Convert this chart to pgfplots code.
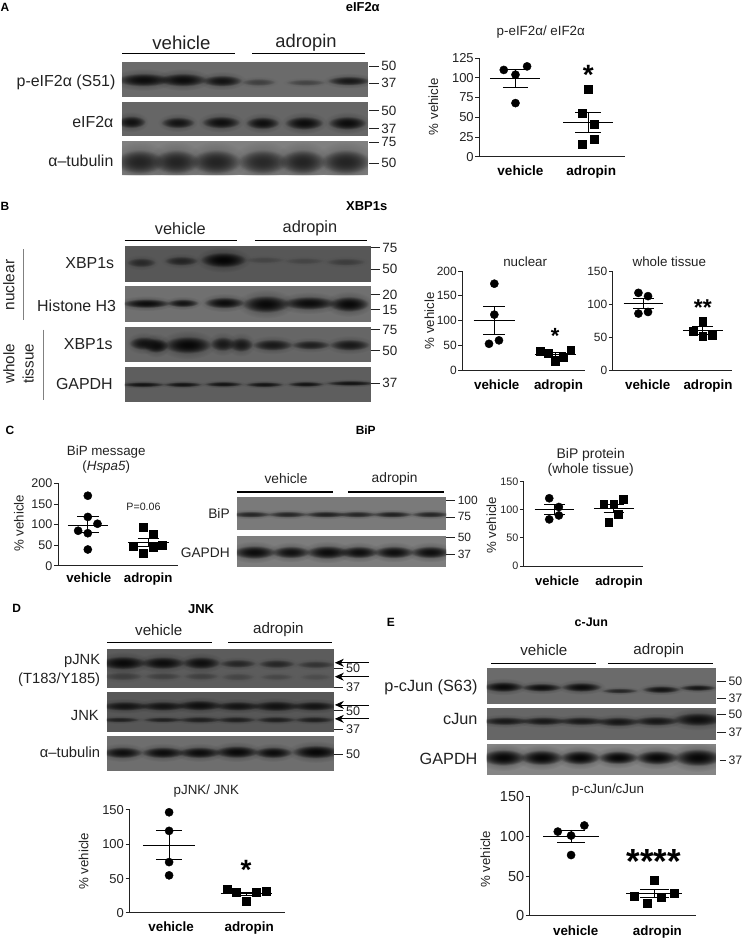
\documentclass[border=0pt]{standalone}
\usepackage{fontspec}
\setmainfont{Liberation Sans}
\usepackage{pgfplots}
\pgfplotsset{compat=1.18}
\usetikzlibrary{arrows.meta,fadings}

\definecolor{ink}{HTML}{222222}
\newcommand{\fs}[1]{\fontsize{#1}{#1}\selectfont}
\tikzfading[name=bf,inner color=transparent!0,outer color=transparent!100]

% text helpers, all in reference pixels
\newcommand{\txt}[4]{\node[ink,inner sep=0pt,font=\fs{#3}] at (#1,#2) {#4};}
\newcommand{\txtb}[4]{\node[black,inner sep=0pt,font=\fs{#3}\bfseries] at (#1,#2) {#4};}
\newcommand{\txtr}[4]{\node[ink,inner sep=0pt,anchor=east,font=\fs{#3}] at (#1,#2) {#4};}
\newcommand{\txtv}[4]{\node[ink,inner sep=0pt,rotate=90,font=\fs{#3}] at (#1,#2) {#4};}
\newcommand{\sig}[4]{\node[black,inner sep=0pt,anchor=base,font=\fs{#3}\bfseries] at (#1,{#2+0.6*#3}) {#4};}
\newcommand{\mw}[5]{\draw[ink,line width=0.8pt] (#1,#3)--(#2,#3);
  \node[ink,inner sep=0pt,anchor=west,font=\fs{#5}] at (#2+2.5,#3) {#4};}
\newcommand{\brk}[3]{\draw[black,line width=1.2pt] (#1,#3)--(#2,#3);}

% blots: zoom-crop coordinates (3x) with an offset
\newcommand{\setoff}[2]{\def\ox{#1}\def\oy{#2}}
\newcommand{\blot}[5]{\definecolor{bg}{gray}{#5}
  \fill[bg] ({\ox+#1/3},{\oy+#2/3}) rectangle ({\ox+#3/3},{\oy+#4/3});
  \def\bxa{#1}\def\bya{#2}\def\bxb{#3}\def\byb{#4}}
\newcommand{\band}[5]{\definecolor{bc}{gray}{#5}
  \begin{scope}
  \clip ({\ox+\bxa/3},{\oy+\bya/3}) rectangle ({\ox+\bxb/3},{\oy+\byb/3});
  \fill[bc,opacity=0.45,path fading=bf] ({\ox+#1/3},{\oy+#2/3}) ellipse ({1.75*#3/3} and {2.6*#4/3});
  \fill[bc,path fading=bf] ({\ox+#1/3},{\oy+#2/3}) ellipse ({1.5*#3/3} and {1.6*#4/3});
  \fill[bc,path fading=bf] ({\ox+#1/3},{\oy+#2/3}) ellipse ({1.4*#3/3} and {1.4*#4/3});
  \end{scope}}

\pgfplotsset{
  dot/.style={
    scale only axis,clip=false,
    axis lines=left,axis line style={-,ink,line width=0.9pt},
    ymin=0,xtick style={draw=none},ytick style={ink,line width=0.9pt},
    tick align=outside,major tick length=4pt,
    xticklabels={vehicle,adropin},
    xticklabel style={font=\fs{13.5}\bfseries,black,text height=10pt,text depth=3pt,inner sep=0pt,yshift=-5pt},
    /pgf/number format/assume math mode=true,
    ylabel={\% vehicle},
    every axis title shift=0pt,
    title style={anchor=center,align=center,inner sep=0pt,text=ink,font=\fs{13.4}},
    every axis y label/.append style={anchor=center,font=\fs{13.3},ink},
    yticklabel style={ink,inner sep=1.5pt},
  },
  pts/.style={only marks,mark=*,mark size=4.1pt,black,forget plot},
  sqr/.style={only marks,mark=square*,mark size=4pt,black,forget plot},
  errl/.style={black,line width=0.9pt,forget plot,no marks},
}
% x, mean left, mean right, mean, cap left, cap right, upper, lower
\newcommand{\meanbar}[8]{
  \addplot[errl] coordinates {(#2,#4) (#3,#4)};
  \addplot[errl] coordinates {(#5,#7) (#6,#7)};
  \addplot[errl] coordinates {(#5,#8) (#6,#8)};
  \addplot[errl] coordinates {(#1,#7) (#1,#8)};
}

\begin{document}
\begin{tikzpicture}
\begin{scope}[x=1pt,y=-1pt]
\path[use as bounding box] (0,0) rectangle (745,938);

% ---------- panel A
\txtb{5}{7}{12}{A}
\txtb{364}{7}{13}{eIF2α}
\txt{182}{43}{18.7}{vehicle}
\txt{307}{43}{18.4}{adropin}
\brk{122.7}{235.7}{54}\brk{253.3}{366.7}{54}
\setoff{0}{0}
\blot{367}{187}{1108}{293}{0.42}
\band{432}{240}{55}{13}{0.05}\band{550}{240}{50}{13}{0.05}\band{668}{243}{42}{11}{0.08}
\band{778}{247}{35}{7}{0.25}\band{920}{248}{40}{6}{0.27}\band{1050}{243}{45}{9}{0.1}
\blot{367}{308}{1108}{408}{0.4}
\band{395}{367}{30}{12}{0.07}\band{535}{369}{35}{11}{0.08}\band{665}{368}{40}{12}{0.06}
\band{790}{370}{35}{12}{0.06}\band{915}{370}{40}{13}{0.05}\band{1045}{370}{40}{13}{0.05}
\blot{367}{424}{1108}{527}{0.5}
\band{420}{487}{50}{24}{0.14}\band{530}{487}{48}{24}{0.14}\band{650}{487}{52}{24}{0.14}
\band{790}{487}{52}{24}{0.16}\band{910}{487}{48}{24}{0.14}\band{1040}{487}{52}{24}{0.14}
\txtr{116}{83}{16}{p-eIF2α (S51)}
\txtr{114}{122}{16}{eIF2α}
\txtr{114}{161}{16}{α–tubulin}
\mw{370.7}{380}{66.3}{50}{13.5}\mw{370.7}{380}{83.3}{37}{13.5}
\mw{370.7}{380}{111}{50}{13.5}\mw{370.7}{380}{129.3}{37}{13.5}
\mw{370.7}{380}{142.7}{75}{13.5}\mw{370.7}{380}{163.7}{50}{13.5}
\sig{590.3}{68}{28}{*}

% ---------- panel B
\txtb{5}{207}{12}{B}
\txtb{368}{207}{13}{XBP1s}
\txt{181}{229}{16.4}{vehicle}
\txt{311}{229}{16.4}{adropin}
\brk{125}{237.7}{241}\brk{255.7}{368.7}{241}
\setoff{0}{190}
\blot{375}{170}{1116}{278}{0.34}
\band{425}{220}{30}{9}{0.16}\band{545}{215}{35}{9}{0.14}\band{672}{212}{48}{15}{0.02}
\band{795}{212}{40}{6}{0.27}\band{915}{215}{40}{6}{0.27}\band{1040}{218}{40}{7}{0.24}
\blot{375}{292}{1116}{400}{0.44}
\band{440}{343}{50}{9}{0.05}\band{550}{342}{33}{8}{0.08}\band{675}{341}{42}{11}{0.05}
\band{800}{345}{50}{17}{0.04}\band{930}{342}{55}{13}{0.05}\band{1050}{345}{42}{15}{0.04}
\blot{375}{413}{1116}{520}{0.4}
\band{432}{463}{30}{13}{0.08}\band{470}{470}{25}{14}{0.05}\band{565}{468}{50}{17}{0.03}
\band{670}{465}{26}{14}{0.1}\band{725}{467}{25}{14}{0.1}\band{820}{468}{42}{11}{0.1}
\band{935}{468}{40}{9}{0.12}\band{1052}{468}{42}{11}{0.1}
\blot{375}{535}{1116}{640}{0.37}
\band{430}{587}{45}{5}{0.08}\band{550}{587}{40}{5}{0.08}\band{672}{586}{40}{5}{0.08}
\band{795}{587}{40}{5}{0.08}\band{920}{586}{38}{5}{0.08}\band{1055}{583}{52}{5}{0.08}
\txtr{114.7}{264}{16}{XBP1s}
\txtr{116.7}{306.7}{16}{Histone H3}
\txtr{113.3}{345.7}{16}{XBP1s}
\txtr{113.3}{385}{16}{GAPDH}
\txtv{9}{286}{15.5}{nuclear}
\txtv{9}{365}{15.3}{whole}
\txtv{28.3}{365}{15.3}{tissue}
\draw[gray,line width=0.8pt] (23,250)--(23,321);
\draw[gray,line width=0.8pt] (44,330.7)--(44,401.7);
\mw{372}{381}{248.3}{75}{13.5}\mw{372}{381}{270}{50}{13.5}
\mw{372}{381}{295.7}{20}{13.5}\mw{372}{381}{310.7}{15}{13.5}
\mw{372}{381}{330.7}{75}{13.5}\mw{372}{381}{351.7}{50}{13.5}
\mw{372}{381}{384.3}{37}{13.5}
\sig{557}{331.7}{22}{*}
\sig{705.3}{303}{23}{**}

% ---------- panel C
\txtb{10}{432}{12}{C}
\txtb{367}{431.7}{12}{BiP}
\txt{287}{480.5}{13.8}{vehicle}
\txt{396}{480.5}{13.8}{adropin}
\brk{237.7}{334}{493.7}\brk{349}{445.3}{493.7}
\setoff{210}{460}
\blot{83}{115}{714}{216}{0.48}
\band{125}{168}{42}{6}{0.15}\band{235}{168}{42}{6}{0.15}\band{350}{168}{45}{6}{0.13}
\band{445}{168}{40}{6}{0.15}\band{550}{168}{42}{6}{0.13}\band{665}{168}{40}{6}{0.15}
\blot{83}{233}{714}{328}{0.49}
\band{135}{282}{45}{13}{0.05}\band{245}{282}{40}{12}{0.07}\band{355}{282}{45}{13}{0.05}
\band{450}{282}{40}{12}{0.06}\band{555}{282}{42}{12}{0.06}\band{665}{282}{42}{12}{0.06}
\txtr{230.7}{515}{13.8}{BiP}
\txtr{230.7}{555}{13.8}{GAPDH}
\mw{448}{456.7}{501.7}{100}{12}\mw{448}{456.7}{518.7}{75}{12}
\mw{448}{456.7}{539.3}{50}{12}\mw{448}{456.7}{556}{37}{12}
\txt{144}{509}{10.7}{P=0.06}

% ---------- panel D
\txtb{16.7}{610.7}{12}{D}
\txtb{201.7}{610.7}{13}{JNK}
\txt{159.3}{632}{15.2}{vehicle}
\txt{279.3}{632}{15.2}{adropin}
\brk{107.7}{212.3}{644.3}\brk{229}{333.3}{644.3}
\setoff{0}{600}
\blot{322}{155}{1005}{270}{0.36}
\band{370}{195}{48}{13}{0.04}\band{490}{195}{46}{12}{0.05}\band{605}{195}{40}{12}{0.06}
\band{715}{197}{38}{8}{0.15}\band{832}{198}{38}{8}{0.15}\band{950}{200}{40}{7}{0.2}
\band{370}{235}{40}{8}{0.24}\band{490}{235}{38}{7}{0.25}\band{605}{235}{36}{7}{0.25}
\band{715}{237}{34}{7}{0.27}\band{832}{237}{34}{6}{0.28}\band{950}{237}{32}{6}{0.3}
\blot{322}{284}{1005}{402}{0.34}
\band{375}{325}{50}{9}{0.08}\band{490}{325}{48}{9}{0.08}\band{600}{323}{48}{10}{0.06}
\band{715}{325}{48}{9}{0.08}\band{830}{325}{50}{10}{0.07}\band{945}{325}{48}{9}{0.08}
\band{360}{366}{42}{5}{0.13}\band{490}{366}{42}{5}{0.13}\band{600}{366}{45}{6}{0.12}
\band{710}{366}{42}{6}{0.12}\band{830}{366}{42}{6}{0.12}\band{945}{366}{42}{6}{0.12}
\blot{322}{416}{1005}{522}{0.43}
\band{368}{465}{42}{11}{0.06}\band{490}{465}{45}{11}{0.05}\band{600}{465}{45}{11}{0.05}
\band{712}{463}{46}{12}{0.04}\band{822}{465}{40}{11}{0.05}\band{950}{463}{50}{13}{0.03}
\txtr{100.7}{663.3}{14.8}{pJNK}
\txtr{100.7}{681.7}{14.8}{(T183/Y185)}
\txtr{99.3}{718.3}{14.8}{JNK}
\txtr{100.7}{754.3}{14.8}{α–tubulin}
\foreach \ya in {665,679,707.3,721.3}{
  \draw[black,line width=0.8pt,-{Stealth[length=9pt,width=8pt]}] (370,\ya)--(336,\ya);}
\mw{335}{344.5}{670.7}{50}{12.6}\mw{335}{344.5}{689.3}{37}{12.6}
\mw{335}{344.5}{713.3}{50}{12.6}\mw{335}{344.5}{731.7}{37}{12.6}
\mw{335}{344.5}{756.7}{50}{12.6}
\sig{247}{865.5}{28}{*}

% ---------- panel E
\txtb{392.3}{624.3}{12}{E}
\txtb{593.3}{624.3}{12.5}{c-Jun}
\txt{545.7}{652.7}{15.2}{vehicle}
\txt{661}{652.7}{15.2}{adropin}
\brk{492.7}{598.3}{665.7}\brk{610}{715}{665.7}
\setoff{385}{600}
\blot{310}{210}{1000}{320}{0.42}
\band{360}{267}{42}{10}{0.04}\band{475}{269}{42}{8}{0.06}\band{595}{268}{42}{9}{0.05}
\band{710}{279}{38}{5}{0.15}\band{835}{275}{40}{7}{0.08}\band{945}{270}{38}{6}{0.09}
\blot{310}{330}{1000}{428}{0.4}
\band{365}{370}{50}{8}{0.1}\band{480}{370}{48}{8}{0.1}\band{595}{370}{50}{8}{0.1}
\band{705}{372}{46}{9}{0.09}\band{820}{370}{48}{9}{0.09}\band{945}{365}{52}{13}{0.06}
\blot{310}{440}{1000}{532}{0.52}
\band{360}{480}{46}{16}{0.03}\band{475}{480}{45}{15}{0.03}\band{590}{480}{42}{14}{0.03}
\band{705}{480}{42}{13}{0.03}\band{822}{480}{45}{14}{0.03}\band{945}{480}{50}{17}{0.03}
\txtr{479.3}{689.3}{16.3}{p-cJun (S63)}
\txtr{479.3}{721.7}{16.3}{cJun}
\txtr{479.3}{761}{16.3}{GAPDH}
\mw{719}{728.3}{684}{50}{12.3}\mw{719}{728.3}{700.7}{37}{12.3}
\mw{719}{728.3}{716.7}{50}{12.3}\mw{719}{728.3}{735}{37}{12.3}
\mw{722}{728.3}{763.3}{37}{12.3}
\sig{656}{855.5}{35}{****}
\end{scope}

% ---------- A: p-eIF2a / eIF2a
\begin{axis}[dot,at={(481pt,-157.3pt)},anchor=south west,width=145.7pt,height=99pt,
  xmin=0.511,xmax=2.498,ymax=125,ytick={0,25,50,75,100,125},xtick={1.073,2.041},
  tick label style={font=\fs{13}},xticklabel style={font=\fs{13.6}\bfseries},
  title={p-eIF2α/ eIF2α},title style={at={(axis description cs:0.423,1.266)}},
  ylabel style={at={(axis description cs:-0.316,0.508)}}]
\addplot[pts] coordinates {(0.845,110) (1.005,104) (1.164,114.5) (1.005,68)};
\meanbar{1}{0.662}{1.347}{99.3}{0.831}{1.183}{110}{88.4}
\addplot[sqr] coordinates {(2,86) (1.918,55) (2.082,41) (2.082,22.5) (1.918,16)};
\meanbar{2}{1.662}{2.333}{44}{1.826}{2.169}{56.4}{31}
\end{axis}

% ---------- B: nuclear
\begin{axis}[dot,at={(464pt,-371.3pt)},anchor=south west,width=123.3pt,height=99.3pt,
  xmin=0.478,xmax=2.489,ymax=200,ytick={0,50,100,150,200},xtick={1.04,2.05},
  tick label style={font=\fs{12}},xticklabel style={font=\fs{13.4}\bfseries},
  title={nuclear},title style={at={(axis description cs:0.511,1.091)}},
  ylabel style={at={(axis description cs:-0.268,0.496)}}]
\addplot[pts] coordinates {(1,174.5) (1,112) (1.076,60) (0.913,53)};
\meanbar{1}{0.663}{1.337}{100.7}{0.821}{1.174}{129}{72.5}
\addplot[sqr] coordinates {(1.745,39) (1.875,34) (2,18) (2.12,26) (2.25,40)};
\meanbar{2}{1.663}{2.337}{31.5}{1.826}{2.174}{35.6}{27.5}
\end{axis}

% ---------- B: whole tissue
\begin{axis}[dot,at={(615pt,-371.3pt)},anchor=south west,width=119pt,height=99.3pt,
  xmin=0.486,xmax=2.486,ymax=150,ytick={0,50,100,150},xtick={1.073,2.09},ylabel={},
  tick label style={font=\fs{12}},xticklabel style={font=\fs{13.4}\bfseries},
  title={whole tissue},title style={at={(axis description cs:0.476,1.091)}}]
\addplot[pts] coordinates {(0.916,117) (1.078,112) (0.916,85.6) (1.078,88)};
\meanbar{1}{0.665}{1.335}{101}{0.827}{1.173}{108.7}{93}
\addplot[sqr] coordinates {(2,74.5) (1.832,59) (2,51) (2.156,53)};
\meanbar{2}{1.665}{2.335}{60}{1.827}{2.173}{65.4}{54}
\end{axis}

% ---------- C: BiP message
\begin{axis}[dot,at={(58.3pt,-567.7pt)},anchor=south west,width=120.7pt,height=82.7pt,
  xmin=0.508,xmax=2.5,ymax=200,ytick={0,50,100,150,200},xtick={1.017,2},
  tick label style={font=\fs{12.6}},xticklabel style={font=\fs{13.3}\bfseries,yshift=2pt},
  title={BiP message\\[1.5pt](\textit{Hspa5})},title style={at={(axis description cs:0.4,1.29)}},
  ylabel style={at={(axis description cs:-0.326,0.516)}}]
\addplot[pts] coordinates {(1,170) (1,118.5) (1.16,102) (0.84,85) (1,79) (1,39.5)};
\meanbar{1}{0.669}{1.337}{99}{0.829}{1.177}{118.5}{80.6}
\addplot[sqr] coordinates {(1.917,93.5) (2.077,76) (1.751,47.6) (2.238,51) (2.077,44) (1.917,31.5)};
\meanbar{2}{1.663}{2.337}{57}{1.829}{2.171}{67}{47.6}
\end{axis}

% ---------- C: BiP protein
\begin{axis}[dot,at={(525.7pt,-568pt)},anchor=south west,width=119.3pt,height=84.7pt,
  xmin=0.49,xmax=2.49,ymax=150,ytick={0,50,100,150},xtick={1.05,2.09},
  tick label style={font=\fs{10.8}},xticklabel style={font=\fs{13}\bfseries},
  title={BiP protein\\[1pt](whole tissue)},title style={font=\fs{14},at={(axis description cs:0.562,1.223)}},
  ylabel style={at={(axis description cs:-0.274,0.484)}}]
\addplot[pts] coordinates {(0.916,120.5) (1.078,105) (1.078,90) (0.916,83)};
\meanbar{1}{0.67}{1.335}{100}{0.832}{1.173}{108.7}{91}
\addplot[sqr] coordinates {(2.156,119) (1.832,110) (2,110) (2.084,93) (1.916,78)};
\meanbar{2}{1.665}{2.335}{101.6}{1.832}{2.173}{110}{95}
\end{axis}

% ---------- D: pJNK / JNK
\begin{axis}[dot,at={(130pt,-916pt)},anchor=south west,width=156pt,height=103.3pt,
  xmin=0.487,xmax=2.504,ymax=150,ytick={0,50,100,150},xtick={1.026,2.039},
  tick label style={font=\fs{13}},xticklabel style={font=\fs{13.5}\bfseries,yshift=1pt},
  title={pJNK/ JNK},title style={at={(axis description cs:0.494,1.181)}},
  ylabel style={at={(axis description cs:-0.295,0.503)}}]
\addplot[pts] coordinates {(1,146.6) (1,119.5) (1,74) (1,54.7)};
\meanbar{1}{0.66}{1.336}{98}{0.828}{1.172}{120}{78.4}
\addplot[sqr] coordinates {(1.75,35) (1.875,30) (2,16.5) (2.125,29.5) (2.254,31.5)};
\meanbar{2}{1.668}{2.34}{28}{1.832}{2.168}{30.5}{25.6}
\end{axis}

% ---------- E: p-cJun / cJun
\begin{axis}[dot,at={(531.7pt,-919pt)},anchor=south west,width=166.6pt,height=119.7pt,
  xmin=0.504,xmax=2.504,ymax=150,ytick={0,50,100,150},xtick={1.056,2.04},
  tick label style={font=\fs{14.6}},xticklabel style={font=\fs{13.4}\bfseries},
  title={p-cJun/cJun},title style={at={(axis description cs:0.47,1.053)}},
  ylabel style={at={(axis description cs:-0.268,0.476)}}]
\addplot[pts] coordinates {(0.84,106) (1,101) (1.16,113.7) (1,76.5)};
\meanbar{1}{0.664}{1.336}{100}{0.832}{1.172}{108}{92}
\addplot[sqr] coordinates {(2,44.7) (2.24,29) (1.756,24.6) (2.08,23.8) (1.92,16.3)};
\meanbar{2}{1.664}{2.336}{27.6}{1.832}{2.176}{33}{23.4}
\end{axis}
\end{tikzpicture}
\end{document}
